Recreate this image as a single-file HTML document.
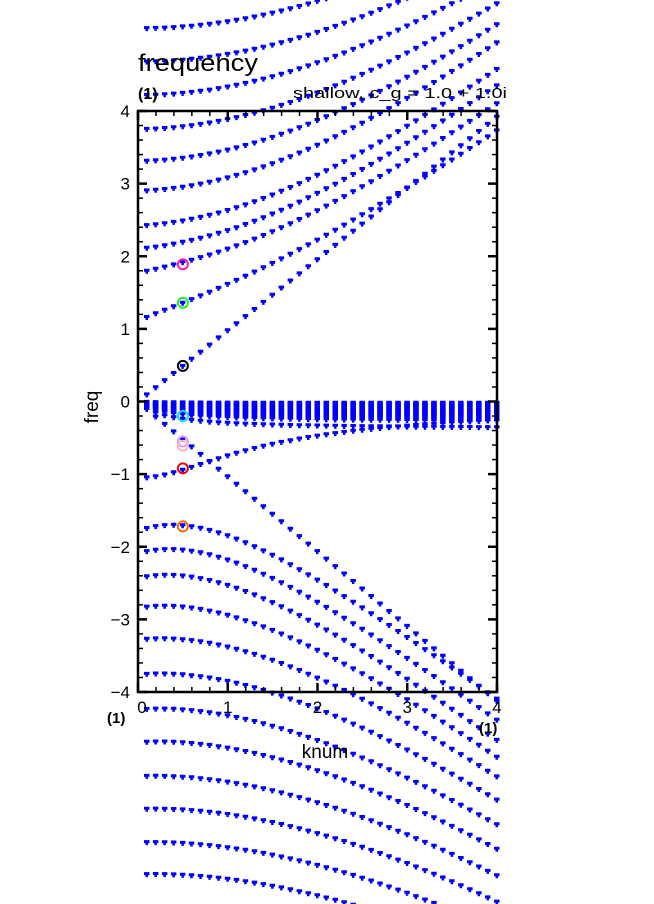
<!DOCTYPE html>
<html><head><meta charset="utf-8"><style>
html,body{margin:0;padding:0;background:#fff;}
svg{display:block;font-family:"Liberation Sans",sans-serif;}
</style></head><body>
<svg id="chart" width="654" height="904" viewBox="0 0 654 904" xmlns="http://www.w3.org/2000/svg">
<g id="dots"></g>
<g id="frame"></g>
<g id="marks"></g>
<text x="138" y="71" font-size="24" textLength="120" lengthAdjust="spacingAndGlyphs">frequency</text>
<text x="138" y="99" font-size="16" font-weight="bold">(1)</text>
<text x="293" y="98" font-size="15" textLength="214" lengthAdjust="spacingAndGlyphs">shallow, c_g = 1.0 + 1.0i</text>
<text x="325" y="758" font-size="19" text-anchor="middle">knum</text>
<text transform="translate(98,407) rotate(-90)" font-size="19" text-anchor="middle">freq</text>
<text x="107" y="723" font-size="15" font-weight="bold">(1)</text>
<text x="479" y="733" font-size="15" font-weight="bold">(1)</text>
<g id="ticklabels"></g>
</svg>
<script>
// ---- data ----
const xTicks = [0, 1, 2, 3, 4];
const yTicks = [-4, -3, -2, -1, 0, 1, 2, 3, 4];
const kValues = [0.1,0.2,0.3,0.4,0.5,0.6,0.7,0.8,0.9,1.0,1.1,1.2,1.3,1.4,1.5,1.6,1.7,1.8,1.9,2.0,2.1,2.2,2.3,2.4,2.5,2.6,2.7,2.8,2.9,3.0,3.1,3.2,3.3,3.4,3.5,3.6,3.7,3.8,3.9,4.0];
// upper inertia-gravity modes: frequency at k=0, wave-speed factor, low-k bump
const upperIntercepts = [1.11, 1.77, 2.10, 2.42, 2.90, 3.31, 3.75, 4.22, 4.68, 5.14];
const upperSpeeds =     [0.88, 0.92, 0.95, 0.97, 1.0, 1.0, 1.0, 1.0, 1.0, 1.0];
const upperBumps =      [0.55, 0.30, 0.15, 0.08, 0.05, 0.03, 0.02, 0.0, 0.0, 0.0];
// lower modes
const lowerIntercepts = [1.78, 2.09, 2.43, 2.84, 3.28, 3.76, 4.24, 4.69, 5.16, 5.61, 6.07, 6.51];
const lowerSpeeds =     [0.93, 0.97, 1.0, 1.0, 1.0, 1.0, 1.0, 1.0, 1.0, 1.0, 1.0, 1.0];
const lowerBumps =      [0.45, 0.35, 0.28, 0.2, 0.15, 0.12, 0.1, 0.08, 0.06, 0.05, 0.04, 0.04];
// gravity lines through origin, slow mode depths, rossby mode
const gravitySlopes = [0.98, -1.03];
const slowDepths = [0.02,0.04,0.06,0.08,0.10,0.12,0.14,0.16,0.18,0.20,0.22,0.25,0.28,0.38];
const rossbyIntercept = [1.05];
// highlighted eigenvalues at k = 0.5
const markK = [0.5,0.5,0.5,0.5,0.5,0.5,0.5,0.5];
const markF = [1.89,1.36,0.49,-0.20,-0.55,-0.61,-0.92,-1.72];
const markColors = ['#ff1aa8','#22ee22','#000000','#00e5ee','#d8a0e0','#ffb0c0','#ee0000','#ff6a00'];

// ---- axes ----
const X0=138, X1=497, Y0=111, Y1=692;
const sx = k => X0 + (k - 0) * (X1 - X0) / 4;
const sy = f => Y1 - (f + 4) * (Y1 - Y0) / 8;
const NS='http://www.w3.org/2000/svg';
function mk(tag, attrs, parent){const e=document.createElementNS(NS,tag);for(const a in attrs)e.setAttribute(a,attrs[a]);parent.appendChild(e);return e;}

const dots = document.getElementById('dots');
function dot(k,f){
  const x=sx(k), y=sy(f);
  if (y < -5 || y > 910) return;
  const p = mk('path',{d:`M${(x-3).toFixed(1)} ${(y-2).toFixed(1)}h5.5v3h-1.5v2h-2.5v-2h-1.5z`, fill:'#0000ff'}, dots);
  
  
}
upperIntercepts.forEach((a,i)=>{
  kValues.forEach(k=>dot(k, Math.sqrt(a*a + upperSpeeds[i]*upperSpeeds[i]*k*k) + upperBumps[i]*k*Math.exp(-k)));
});
lowerIntercepts.forEach((a,i)=>{
  kValues.forEach(k=>dot(k, -Math.sqrt(a*a + lowerSpeeds[i]*lowerSpeeds[i]*k*k) + lowerBumps[i]*k*Math.exp(-k)));
});
gravitySlopes.forEach(s=>kValues.forEach(k=>dot(k, s*k)));
slowDepths.forEach(b=>kValues.forEach(k=>dot(k, -b*k/(k+0.3))));
rossbyIntercept.forEach(r=>kValues.forEach(k=>dot(k, -r/Math.sqrt(1+k*k))));

// frame and ticks
const frame=document.getElementById('frame');
const box=mk('rect',{x:X0,y:Y0,width:X1-X0,height:Y1-Y0,fill:'none',stroke:'#000','stroke-width':2.5},frame);


const tl=document.getElementById('ticklabels');
for(let i=0;i<=20;i++){
  const k=i*0.2, x=sx(k), L=(i%5===0)?9:5;
  mk('line',{x1:x,y1:Y1,x2:x,y2:Y1-L,stroke:'#000','stroke-width':i%5===0?2.5:1.5},frame);
  mk('line',{x1:x,y1:Y0,x2:x,y2:Y0+L,stroke:'#000','stroke-width':i%5===0?2.5:1.5},frame);
}
for(let i=0;i<=40;i++){
  const f=-4+i*0.2, y=sy(f), L=(i%5===0)?9:5;
  mk('line',{x1:X0,y1:y,x2:X0+L,y2:y,stroke:'#000','stroke-width':i%5===0?2.5:1.5},frame);
  mk('line',{x1:X1,y1:y,x2:X1-L,y2:y,stroke:'#000','stroke-width':i%5===0?2.5:1.5},frame);
}
xTicks.forEach(v=>{
  const t=mk('text',{x:sx(v)+(v===0?4:0),y:Y1+21,'font-size':17,'text-anchor':'middle'},tl);
  t.textContent=String(v);
  
  
});
yTicks.forEach(v=>{
  const t=mk('text',{x:X0-8,y:sy(v)+6,'font-size':17,'text-anchor':'end'},tl);
  t.textContent=v<0?'\u2212'+(-v):String(v);
  
  
});
// highlight circles
const marks=document.getElementById('marks');
markF.forEach((f,i)=>{
  const c=mk('circle',{cx:sx(markK[i]),cy:sy(f),r:5,fill:'none',stroke:markColors[i],'stroke-width':2},marks);
  
  
});
</script>
</body></html>
